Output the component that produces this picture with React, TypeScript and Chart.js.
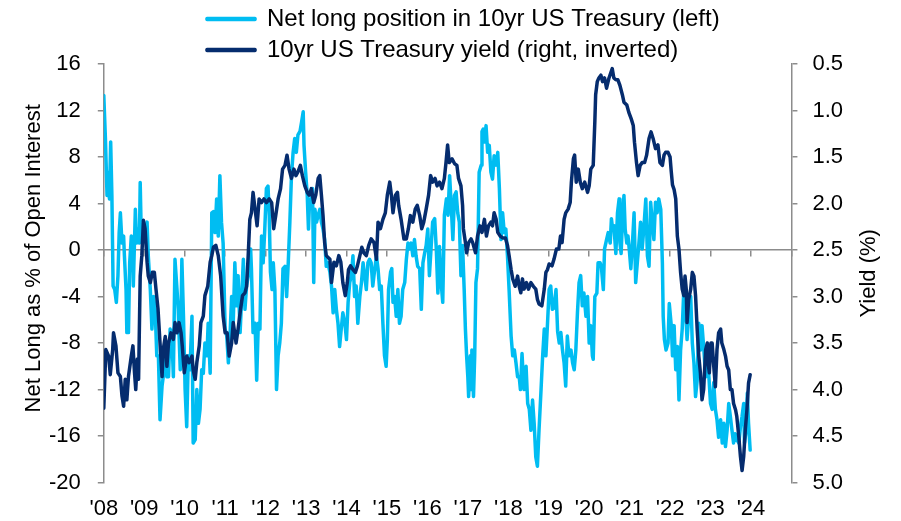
import React, { useEffect, useRef } from 'react';
import { Chart, registerables } from 'chart.js';

Chart.register(...registerables);

const FONT = "'Liberation Sans', Arial, Helvetica, sans-serif";
const LIGHT = '#00BDF2';
const DARK = '#052C6E';
const AXIS = '#8C8C8C';

const LEFT_TITLE = 'Net Long as % of Open Interest';
const RIGHT_TITLE = 'Yield (%)';
const NET_LABEL = 'Net long position in 10yr US Treasury (left)';
const YIELD_LABEL = '10yr US Treasury yield (right, inverted)';

const yearTicks = [2008, 2009, 2010, 2011, 2012, 2013, 2014, 2015, 2016, 2017, 2018, 2019, 2020, 2021, 2022, 2023, 2024];
const yearLabels = ["'08", "'09", "'10", "'11", "'12", "'13", "'14", "'15", "'16", "'17", "'18", "'19", "'20", "'21", "'22", "'23", "'24"];

const yieldDates = [
  2008.00, 2008.05, 2008.12, 2008.16, 2008.22, 2008.24, 2008.30, 2008.35, 2008.41, 2008.45, 2008.49, 2008.53, 2008.57, 2008.61, 2008.68, 2008.72, 2008.76, 2008.79, 2008.83, 2008.86, 2008.90, 2008.94, 2008.98,
  2009.02, 2009.07, 2009.10, 2009.15, 2009.20, 2009.25, 2009.29, 2009.34, 2009.39, 2009.44, 2009.47, 2009.52, 2009.56, 2009.60, 2009.66, 2009.72, 2009.76, 2009.81, 2009.86, 2009.91, 2009.94, 2009.99,
  2010.05, 2010.11, 2010.18, 2010.21, 2010.26, 2010.30, 2010.36, 2010.40, 2010.46, 2010.50, 2010.57, 2010.63, 2010.67, 2010.71, 2010.77, 2010.83, 2010.89, 2010.95,
  2011.00, 2011.05, 2011.10, 2011.16, 2011.20, 2011.27, 2011.32, 2011.38, 2011.43, 2011.49, 2011.53, 2011.57, 2011.61, 2011.65, 2011.69, 2011.74, 2011.79, 2011.84, 2011.90, 2011.96,
  2012.02, 2012.09, 2012.15, 2012.20, 2012.25, 2012.31, 2012.37, 2012.42, 2012.48, 2012.53, 2012.58, 2012.64, 2012.70, 2012.75, 2012.80, 2012.86, 2012.91, 2012.97,
  2013.03, 2013.08, 2013.13, 2013.19, 2013.24, 2013.30, 2013.34, 2013.38, 2013.42, 2013.46, 2013.50, 2013.59, 2013.63, 2013.69, 2013.75, 2013.81, 2013.86, 2013.91, 2013.97,
  2014.02, 2014.05, 2014.10, 2014.16, 2014.22, 2014.27, 2014.33, 2014.38, 2014.43, 2014.49, 2014.55, 2014.61, 2014.68, 2014.74, 2014.78, 2014.84, 2014.90, 2014.96,
  2015.01, 2015.07, 2015.11, 2015.15, 2015.21, 2015.26, 2015.29, 2015.35, 2015.42, 2015.48, 2015.53, 2015.58, 2015.64, 2015.70, 2015.75, 2015.81, 2015.86, 2015.91, 2015.97,
  2016.03, 2016.08, 2016.13, 2016.19, 2016.24, 2016.30, 2016.36, 2016.42, 2016.46, 2016.50, 2016.54, 2016.61, 2016.67, 2016.73, 2016.77, 2016.83, 2016.87, 2016.89, 2016.94, 2016.97,
  2017.02, 2017.08, 2017.12, 2017.19, 2017.24, 2017.30, 2017.35, 2017.41, 2017.46, 2017.51, 2017.57, 2017.61, 2017.65, 2017.70, 2017.74, 2017.80, 2017.86, 2017.93, 2017.98,
  2018.02, 2018.07, 2018.11, 2018.17, 2018.23, 2018.27, 2018.31, 2018.35, 2018.39, 2018.45, 2018.50, 2018.56, 2018.62, 2018.68, 2018.72, 2018.76, 2018.83, 2018.89, 2018.93, 2018.97,
  2019.01, 2019.08, 2019.13, 2019.19, 2019.25, 2019.29, 2019.33, 2019.38, 2019.42, 2019.48, 2019.53, 2019.56, 2019.61, 2019.64, 2019.68, 2019.73, 2019.78, 2019.83, 2019.89, 2019.96,
  2020.00, 2020.04, 2020.10, 2020.14, 2020.16, 2020.20, 2020.24, 2020.29, 2020.33, 2020.38, 2020.43, 2020.49, 2020.53, 2020.57, 2020.61, 2020.66, 2020.71, 2020.76, 2020.82, 2020.86, 2020.93, 2020.98,
  2021.04, 2021.09, 2021.12, 2021.17, 2021.21, 2021.26, 2021.31, 2021.37, 2021.42, 2021.48, 2021.53, 2021.58, 2021.64, 2021.70, 2021.75, 2021.81, 2021.85, 2021.89, 2021.95,
  2022.00, 2022.03, 2022.06, 2022.10, 2022.14, 2022.18, 2022.22, 2022.26, 2022.30, 2022.34, 2022.37, 2022.40, 2022.42, 2022.46, 2022.51, 2022.55, 2022.59, 2022.63, 2022.67, 2022.71, 2022.75, 2022.79, 2022.83, 2022.88, 2022.92, 2022.94, 2022.97,
  2023.01, 2023.04, 2023.08, 2023.12, 2023.16, 2023.20, 2023.25, 2023.28, 2023.33, 2023.37, 2023.41, 2023.45, 2023.49, 2023.53, 2023.57, 2023.62, 2023.65, 2023.70, 2023.74, 2023.78, 2023.82, 2023.86, 2023.90, 2023.94, 2023.98,
];

const yieldValues = [
  4.20, 3.57, 3.64, 3.84, 3.57, 3.39, 3.53, 3.82, 3.86, 4.07, 4.18, 3.89, 4.11, 3.86, 3.64, 3.53, 3.82, 4.00, 3.67, 3.89, 2.78, 2.56, 2.18,
  2.27, 2.63, 2.78, 2.85, 2.74, 2.74, 2.92, 3.13, 3.50, 3.86, 3.57, 3.43, 3.75, 3.50, 3.39, 3.46, 3.28, 3.39, 3.28, 3.39, 3.53, 3.82,
  3.64, 3.71, 3.64, 3.79, 3.89, 3.71, 3.53, 3.28, 3.21, 2.99, 2.89, 2.63, 2.56, 2.47, 2.45, 2.56, 2.78, 3.21,
  3.39, 3.39, 3.64, 3.50, 3.28, 3.50, 3.35, 3.14, 2.99, 2.96, 2.89, 2.56, 2.17, 2.10, 1.88, 2.06, 2.24, 1.95, 1.99, 1.95,
  1.99, 1.95, 1.99, 2.27, 2.13, 1.95, 1.84, 1.63, 1.59, 1.48, 1.63, 1.73, 1.63, 1.70, 1.66, 1.59, 1.70, 1.81,
  1.88, 1.91, 1.84, 1.99, 1.91, 1.73, 1.70, 1.91, 2.13, 2.42, 2.56, 2.60, 2.85, 2.63, 2.67, 2.56, 2.63, 2.85, 2.99,
  2.85, 2.71, 2.67, 2.71, 2.74, 2.67, 2.56, 2.47, 2.53, 2.56, 2.45, 2.38, 2.42, 2.60, 2.20, 2.27, 2.17, 2.10,
  1.91, 1.77, 1.91, 2.10, 1.91, 1.88, 2.02, 2.17, 2.38, 2.38, 2.27, 2.13, 2.20, 2.06, 2.02, 2.13, 2.27, 2.20, 2.06,
  1.91, 1.70, 1.77, 1.73, 1.81, 1.77, 1.84, 1.73, 1.56, 1.37, 1.56, 1.52, 1.57, 1.59, 1.73, 1.81, 2.02, 2.27, 2.42, 2.53,
  2.42, 2.38, 2.42, 2.53, 2.35, 2.24, 2.31, 2.17, 2.35, 2.24, 2.20, 2.24, 2.10, 2.17, 2.31, 2.35, 2.37, 2.37, 2.45,
  2.56, 2.71, 2.81, 2.89, 2.78, 2.89, 2.96, 2.81, 2.92, 2.85, 2.92, 2.85, 2.89, 2.92, 3.03, 3.08, 3.10, 2.92, 2.74, 2.71,
  2.65, 2.67, 2.60, 2.49, 2.49, 2.35, 2.42, 2.17, 2.10, 2.06, 1.99, 1.77, 1.52, 1.48, 1.77, 1.63, 1.77, 1.84, 1.77, 1.88,
  1.81, 1.63, 1.59, 1.12, 0.83, 0.69, 0.65, 0.62, 0.69, 0.65, 0.76, 0.65, 0.60, 0.55, 0.65, 0.67, 0.67, 0.73, 0.83, 0.91, 0.94, 1.02,
  1.09, 1.16, 1.34, 1.56, 1.70, 1.59, 1.56, 1.56, 1.48, 1.30, 1.23, 1.30, 1.41, 1.37, 1.56, 1.59, 1.48, 1.45, 1.45,
  1.50, 1.66, 1.80, 1.85, 1.95, 2.35, 2.49, 2.74, 2.92, 2.99, 2.78, 2.92, 3.28, 3.03, 2.92, 2.74, 2.78, 2.99, 3.35, 3.64, 3.82, 4.11, 4.00, 3.57, 3.50, 3.71, 3.82,
  3.50, 3.50, 3.75, 3.97, 3.57, 3.39, 3.35, 3.50, 3.57, 3.64, 3.75, 3.79, 4.00, 4.00, 4.15, 4.22, 4.29, 4.51, 4.72, 4.87, 4.72, 4.43, 4.22, 3.93, 3.84,
];

const netLongDates = [
  2008.00, 2008.04, 2008.08, 2008.10, 2008.14, 2008.17, 2008.20, 2008.23, 2008.27, 2008.31, 2008.35, 2008.38, 2008.41, 2008.45, 2008.49, 2008.51, 2008.55, 2008.57, 2008.61, 2008.64, 2008.68, 2008.71, 2008.73, 2008.78, 2008.81, 2008.84, 2008.88, 2008.90, 2008.92, 2008.96, 2008.98,
  2009.02, 2009.07, 2009.10, 2009.15, 2009.19, 2009.23, 2009.27, 2009.31, 2009.35, 2009.39, 2009.44, 2009.47, 2009.52, 2009.56, 2009.60, 2009.64, 2009.68, 2009.72, 2009.76, 2009.81, 2009.84, 2009.89, 2009.93, 2009.97,
  2010.01, 2010.05, 2010.09, 2010.13, 2010.18, 2010.21, 2010.26, 2010.30, 2010.34, 2010.38, 2010.42, 2010.46, 2010.50, 2010.55, 2010.58, 2010.63, 2010.67, 2010.71, 2010.75, 2010.79, 2010.83, 2010.87, 2010.91, 2010.95,
  2011.00, 2011.04, 2011.08, 2011.12, 2011.16, 2011.20, 2011.24, 2011.28, 2011.32, 2011.37, 2011.41, 2011.45, 2011.49, 2011.53, 2011.60, 2011.63, 2011.65, 2011.69, 2011.74, 2011.78, 2011.82, 2011.86, 2011.90, 2011.94, 2011.98,
  2012.02, 2012.06, 2012.09, 2012.12, 2012.16, 2012.19, 2012.23, 2012.27, 2012.31, 2012.35, 2012.39, 2012.43, 2012.48, 2012.52, 2012.56, 2012.60, 2012.64, 2012.68, 2012.72, 2012.76, 2012.80, 2012.85, 2012.89, 2012.93, 2012.95, 2012.99,
  2013.03, 2013.06, 2013.09, 2013.13, 2013.16, 2013.19, 2013.22, 2013.26, 2013.30, 2013.34, 2013.38, 2013.42, 2013.46, 2013.50, 2013.54, 2013.59, 2013.63, 2013.67, 2013.71, 2013.75, 2013.79, 2013.83, 2013.87, 2013.91, 2013.96,
  2014.00, 2014.04, 2014.08, 2014.12, 2014.16, 2014.20, 2014.24, 2014.28, 2014.33, 2014.37, 2014.41, 2014.45, 2014.49, 2014.53, 2014.57, 2014.61, 2014.65, 2014.70, 2014.74, 2014.78, 2014.82, 2014.86, 2014.90, 2014.94, 2014.98,
  2015.01, 2015.04, 2015.09, 2015.12, 2015.15, 2015.19, 2015.23, 2015.27, 2015.31, 2015.35, 2015.39, 2015.44, 2015.48, 2015.52, 2015.56, 2015.60, 2015.64, 2015.68, 2015.72, 2015.76, 2015.81, 2015.85, 2015.89, 2015.93, 2015.97,
  2016.01, 2016.05, 2016.09, 2016.13, 2016.18, 2016.22, 2016.26, 2016.30, 2016.34, 2016.38, 2016.42, 2016.47, 2016.51, 2016.55, 2016.59, 2016.63, 2016.67, 2016.71, 2016.75, 2016.79, 2016.83, 2016.87, 2016.91, 2016.94, 2016.97,
  2017.00, 2017.02, 2017.06, 2017.08, 2017.10, 2017.14, 2017.17, 2017.20, 2017.24, 2017.28, 2017.33, 2017.35, 2017.38, 2017.42, 2017.45, 2017.49, 2017.53, 2017.57, 2017.61, 2017.65, 2017.70, 2017.74, 2017.78, 2017.82, 2017.86, 2017.90, 2017.94, 2017.98,
  2018.02, 2018.07, 2018.11, 2018.15, 2018.19, 2018.23, 2018.27, 2018.30, 2018.34, 2018.37, 2018.39, 2018.44, 2018.48, 2018.52, 2018.56, 2018.60, 2018.64, 2018.68, 2018.72, 2018.76, 2018.81, 2018.85, 2018.89, 2018.93, 2018.97,
  2019.01, 2019.05, 2019.09, 2019.13, 2019.18, 2019.22, 2019.26, 2019.30, 2019.34, 2019.38, 2019.42, 2019.46, 2019.50, 2019.55, 2019.59, 2019.63, 2019.67, 2019.71, 2019.75, 2019.79, 2019.83, 2019.87, 2019.92, 2019.96,
  2020.00, 2020.04, 2020.08, 2020.10, 2020.14, 2020.19, 2020.22, 2020.27, 2020.30, 2020.35, 2020.38, 2020.43, 2020.47, 2020.52, 2020.55, 2020.58, 2020.61, 2020.66, 2020.70, 2020.74, 2020.76, 2020.79, 2020.83, 2020.86, 2020.89, 2020.93, 2020.96, 2020.99,
  2021.03, 2021.07, 2021.11, 2021.15, 2021.19, 2021.23, 2021.27, 2021.31, 2021.35, 2021.40, 2021.44, 2021.48, 2021.52, 2021.56, 2021.60, 2021.64, 2021.68, 2021.72, 2021.77, 2021.81, 2021.83, 2021.86, 2021.90, 2021.95, 2021.98,
  2022.03, 2022.06, 2022.10, 2022.14, 2022.18, 2022.22, 2022.26, 2022.30, 2022.34, 2022.37, 2022.40, 2022.42, 2022.46, 2022.51, 2022.55, 2022.59, 2022.63, 2022.67, 2022.71, 2022.75, 2022.79, 2022.83, 2022.88, 2022.92, 2022.96,
  2023.00, 2023.04, 2023.08, 2023.12, 2023.16, 2023.20, 2023.25, 2023.29, 2023.33, 2023.37, 2023.41, 2023.45, 2023.49, 2023.53, 2023.57, 2023.61, 2023.65, 2023.70, 2023.74, 2023.78, 2023.82, 2023.84, 2023.88, 2023.91, 2023.94, 2023.98,
];

const netLongValues = [
  13.3, 9.6, 4.7, 6.7, 4.4, 9.3, 4.7, -3.1, -3.4, -4.5, -2.2, 1.5, 3.2, 0.6, 1.2, -0.5, -3.4, -7.1, -7.1, -1.1, 1.2, 0.6, -3.1, 3.5, 0.6, 1.8, 0.6, 5.8, 2.4, 0.6, 2.1,
  1.8, 2.4, -0.5, -3.4, -6.8, -4.0, -5.1, -9.1, -9.1, -14.6, -11.7, -10.9, -9.1, -10.9, -10.9, -6.8, -7.1, -10.9, -0.8, -3.4, -5.1, -10.3, -0.8, -5.7,
  -12.0, -15.2, -9.1, -10.3, -5.7, -16.6, -16.3, -12.0, -14.9, -13.7, -10.3, -10.6, -8.0, -9.1, -6.3, -10.6, 3.2, 3.3, 1.5, 4.4, 1.2, 6.4, 2.4, 0.6,
  -6.8, -7.4, -9.7, -7.4, -4.0, -6.3, -1.1, -4.8, -2.2, -7.1, -4.0, -0.8, -5.1, -3.1, -1.6, 0.1, -1.6, -7.1, -6.3, -11.2, -6.3, -6.8, 1.2, -1.1, 1.8,
  5.3, 5.5, 3.0, -1.9, -3.4, -1.1, -3.4, -12.0, -9.1, -8.0, -6.3, -1.6, -1.4, -4.0, -1.1, 2.4, 6.4, 8.4, 9.6, 8.4, 9.9, 10.2, 11.0, 11.9, 9.0, 6.7,
  4.7, 1.8, 4.4, 4.1, 5.3, -2.8, 3.5, 2.4, 3.0, 3.5, 2.4, 1.8, 0.9, -1.4, -1.1, -1.9, -3.1, -5.4, -3.4, -5.1, -6.3, -8.3, -6.8, -5.4, -6.3,
  -7.7, -4.5, -2.8, -2.2, -0.5, -4.0, -3.1, -6.3, -4.0, -2.8, -1.1, -2.2, -3.4, -1.1, -0.8, -1.1, -3.1, -1.6, -0.5, -1.6, -3.4, -3.1, -6.3, -9.1, -10.0,
  -7.7, -3.4, -1.9, -1.6, -4.5, -4.0, -5.7, -3.4, -6.3, -5.7, -3.4, -2.8, -0.8, 0.6, 0.1, 0.6, -0.5, 0.9, -0.5, -1.4, -1.6, -5.1, -1.1, -0.3, 0.4,
  1.8, -2.2, 0.1, 2.4, 2.7, 0.1, -3.7, 0.3, -2.8, -4.5, 3.0, 4.4, 3.0, 6.4, 3.8, 0.9, 4.7, 5.0, 3.2, 2.4, -2.2, 0.4, -3.4, -6.8, -9.1,
  -10.9, -12.6, -9.1, -12.0, -8.6, -12.6, -9.1, -2.8, -1.6, 6.7, 7.3, 10.2, 10.4, 9.3, 10.7, 8.4, 9.0, 6.7, 6.1, 8.1, 7.3, 8.4, 5.3, 0.9, 3.2, 1.5, 1.8, -0.5,
  -3.4, -7.4, -9.1, -8.6, -9.7, -10.9, -10.9, -12.0, -8.9, -10.9, -12.0, -10.0, -13.2, -13.7, -15.5, -12.9, -14.9, -17.8, -18.6, -15.5, -12.0, -9.1, -6.8, -9.1, -6.3,
  -3.4, -3.1, -5.1, -5.0, -3.4, -7.0, -8.0, -7.1, -8.6, -9.7, -11.7, -7.4, -9.1, -8.6, -9.7, -10.3, -8.6, -5.4, -2.8, -2.2, -4.8, -3.7, -5.7, -4.0,
  -8.0, -6.5, -9.1, -9.4, -4.0, -3.7, -1.1, -1.1, -1.4, -3.4, 0.1, 0.9, 1.5, 0.6, 2.7, 1.8, 2.1, -0.3, 3.2, 4.4, 0.6, -0.3, 3.2, 4.7, 1.8, 0.6, 1.2, 0.1,
  -1.6, 0.6, 3.2, -2.8, -1.1, 0.6, 2.4, 0.1, 1.8, 4.4, -0.5, -1.4, 4.1, 2.4, 0.9, 4.1, 3.2, 4.4, 3.5, -1.1, -5.7, -7.7, -8.6, -8.0, -4.6,
  -6.5, -9.1, -6.5, -10.3, -8.3, -12.9, -8.6, -6.8, -3.4, -5.1, -6.3, -7.7, -5.7, -4.0, -8.0, -9.7, -12.6, -11.2, -6.3, -8.6, -6.5, -8.3, -10.9, -8.3, -10.9,
  -13.2, -13.7, -11.4, -13.7, -14.6, -16.1, -14.6, -16.6, -14.9, -16.9, -15.5, -13.2, -14.3, -15.5, -16.6, -15.8, -16.3, -16.6, -15.2, -14.3, -13.2, -16.6, -15.5, -12.3, -14.9, -17.2,
];

const LEGEND_X = 207;
const LEFT_TITLE_SHIFT = -15;

const legendShift = {
  id: 'legendShift',
  afterLayout(chart: any) {
    const lg = chart.legend;
    if (lg) {
      const pad = lg.options.labels.padding;
      lg.left = LEGEND_X - pad;
    }
  },
};

const axisTitles = {
  id: 'axisTitles',
  afterDraw(chart: any) {
    const { ctx, chartArea } = chart;
    const size = 22;
    const l = chart.scales.y;
    const r = chart.scales.y1;
    const cy = (chartArea.top + chartArea.bottom) / 2;
    const draw = (x: number, y: number, text: string) => {
      ctx.save();
      ctx.translate(x, y);
      ctx.rotate(-Math.PI / 2);
      ctx.fillStyle = '#000';
      ctx.font = `${size}px ${FONT}`;
      ctx.textAlign = 'center';
      ctx.textBaseline = 'middle';
      ctx.fillText(text, 0, 0);
      ctx.restore();
    };
    draw(l.left + 2, cy + LEFT_TITLE_SHIFT, LEFT_TITLE);
    draw(r.right + 11, cy, RIGHT_TITLE);
  },
};

export default function App() {
  const ref = useRef<HTMLCanvasElement>(null);

  useEffect(() => {
    const canvas = ref.current;
    if (!canvas) return;
    const toPts = (xs: number[], ys: number[]) => xs.map((x, i) => ({ x, y: ys[i] }));
    const tickFont = { size: 22, family: FONT };
    const chart = new Chart(canvas, {
      type: 'line',
      data: {
        datasets: [
          {
            label: YIELD_LABEL,
            data: toPts(yieldDates, yieldValues),
            xAxisID: 'x',
            yAxisID: 'y1',
            borderColor: DARK,
            backgroundColor: DARK,
            borderWidth: 3.5,
            pointRadius: 0,
            tension: 0,
            borderJoinStyle: 'round',
            borderCapStyle: 'round',
          },
          {
            label: NET_LABEL,
            data: toPts(netLongDates, netLongValues),
            xAxisID: 'x',
            yAxisID: 'y',
            borderColor: LIGHT,
            backgroundColor: LIGHT,
            borderWidth: 3.5,
            pointRadius: 0,
            tension: 0,
            borderJoinStyle: 'round',
            borderCapStyle: 'round',
          },
        ],
      },
      options: {
        animation: false,
        responsive: true,
        maintainAspectRatio: false,
        layout: { padding: { left: 32, right: 43, top: 0, bottom: -14 } },
        plugins: {
          legend: {
            display: true,
            position: 'top',
            align: 'start',
            maxHeight: 64,
            labels: {
              boxWidth: 48,
              boxHeight: 1,
              padding: 7,
              color: '#000',
              font: { size: 24, family: FONT },
              sort: (a: any, b: any) => b.datasetIndex - a.datasetIndex,
            },
          },
          tooltip: { enabled: false },
        },
        scales: {
          x: {
            type: 'linear',
            position: 'bottom',
            min: 2008,
            max: 2025,
            grid: { display: false, drawTicks: false },
            border: { display: false },
            ticks: {
              stepSize: 1,
              autoSkip: false,
              maxRotation: 0,
              padding: 13,
              color: '#000',
              font: tickFont,
              callback: (v: any) => {
                const i = yearTicks.indexOf(Number(v));
                return i >= 0 ? yearLabels[i] : '';
              },
            },
          },
          x2: {
            type: 'linear',
            axis: 'x',
            position: { y: 0 },
            min: 2008,
            max: 2025,
            grid: { drawOnChartArea: false, drawTicks: true, tickLength: 6, color: AXIS, lineWidth: 1.5 },
            border: { display: true, color: AXIS, width: 1.5 },
            ticks: { display: false, stepSize: 1 },
          },
          y: {
            type: 'linear',
            position: 'left',
            min: -20,
            max: 16,
            ticks: { stepSize: 4, padding: 17, color: '#000', font: tickFont },
            grid: { drawOnChartArea: false, tickLength: 6, color: AXIS, lineWidth: 1.5 },
            border: { display: true, color: AXIS, width: 1.5 },
            title: { display: false, text: LEFT_TITLE },
          },
          y1: {
            type: 'linear',
            position: 'right',
            min: 0.5,
            max: 5,
            reverse: true,
            ticks: {
              stepSize: 0.5,
              padding: 15,
              color: '#000',
              font: tickFont,
              callback: (v: any) => Number(v).toFixed(1),
            },
            grid: { drawOnChartArea: false, tickLength: 6, color: AXIS, lineWidth: 1.5 },
            border: { display: true, color: AXIS, width: 1.5 },
            title: { display: false, text: RIGHT_TITLE },
          },
        },
      } as any,
      plugins: [legendShift, axisTitles],
    });
    return () => chart.destroy();
  }, []);

  return (
    <div style={{ position: 'absolute', left: 0, top: 0, width: 901, height: 521, background: '#fff' }}>
      <canvas ref={ref} />
    </div>
  );
}
